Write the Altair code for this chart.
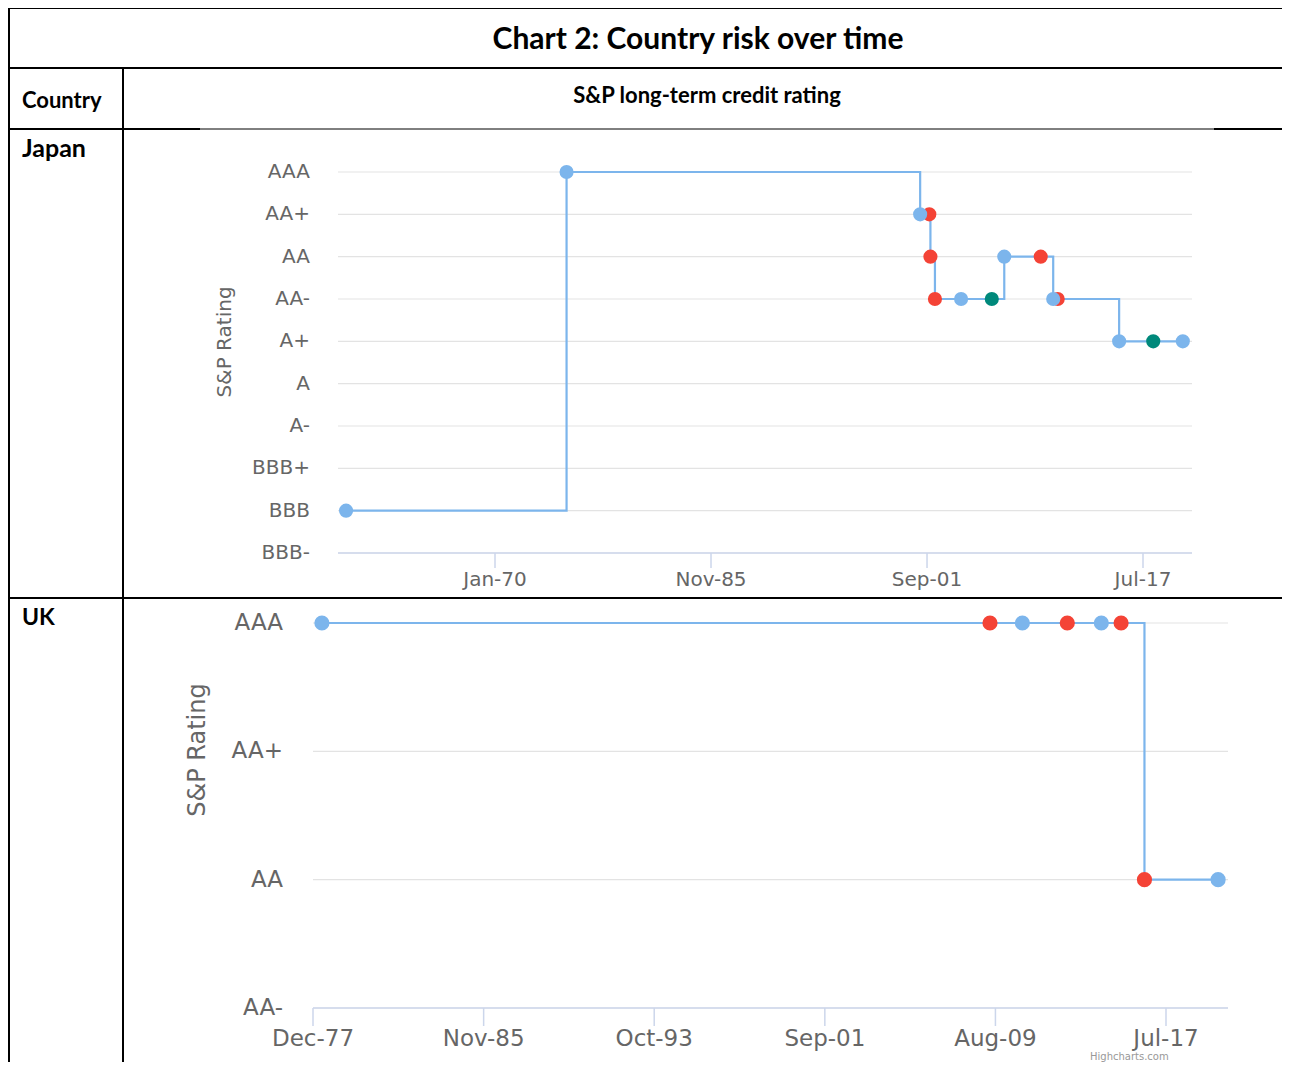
import altair as alt
import pandas as pd

# ---------------- data ----------------
jp_ratings = ["AAA", "AA+", "AA", "AA-", "A+", "A", "A-", "BBB+", "BBB", "BBB-"]
jp_dates = ["1959-02-01", "1975-04-01", "2001-03-01", "2001-11-01", "2001-12-01",
            "2002-04-01", "2004-03-01", "2006-06-01", "2007-05-01", "2010-01-01",
            "2010-12-01", "2011-04-01", "2015-10-01", "2018-04-01", "2020-06-01"]
jp_rating = ["BBB", "AAA", "AA+", "AA+", "AA", "AA-", "AA-", "AA-", "AA", "AA",
             "AA-", "AA-", "A+", "A+", "A+"]
jp_outlook = ["Stable", "Stable", "Stable", "Negative", "Negative", "Negative", "Stable",
              "Positive", "Stable", "Negative", "Stable", "Negative", "Stable",
              "Positive", "Stable"]
jp_tick_dates = ["1970-01-01", "1985-11-01", "2001-09-01", "2017-07-01"]
jp_tick_labels = ["Jan-70", "Nov-85", "Sep-01", "Jul-17"]

uk_ratings = ["AAA", "AA+", "AA", "AA-"]
uk_dates = ["1978-05-01", "2009-05-01", "2010-11-01", "2012-12-01", "2014-07-01",
            "2015-06-01", "2016-07-01", "2019-12-01"]
uk_rating = ["AAA", "AAA", "AAA", "AAA", "AAA", "AAA", "AA", "AA"]
uk_outlook = ["Stable", "Negative", "Stable", "Negative", "Stable", "Negative",
              "Negative", "Stable"]
uk_tick_dates = ["1977-12-01", "1985-11-01", "1993-10-01", "2001-09-01",
                 "2009-08-01", "2017-07-01"]
uk_tick_labels = ["Dec-77", "Nov-85", "Oct-93", "Sep-01", "Aug-09", "Jul-17"]

outlooks = ["Stable", "Negative", "Positive"]
outlook_colors = ["#7cb5ec", "#f44336", "#00897b"]

title_text = "Chart 2: Country risk over time"
header_country = "Country"
header_rating = "S&P long-term credit rating"
countries = ["Japan", "UK"]
y_title = "S&P Rating"
credits = "Highcharts.com"

# ---------------- layout ----------------
W, H = 1274, 1054
LABEL = "#666666"
GRID = "#e3e3e3"
AXIS = "#ccd6eb"
FONT = "DejaVu Sans"
TFONT = "Lato"

one = pd.DataFrame({"k": [0]})


def dt(s):
    t = pd.Timestamp(s)
    return alt.DateTime(year=t.year, month=t.month, date=t.day)


def hline(y, x1, x2, w=2, color="black"):
    return alt.Chart(one).mark_rule(color=color, strokeWidth=w).encode(
        x=alt.value(x1), x2=alt.value(x2), y=alt.value(y))


def vline(x, y1, y2, w=2, color="black"):
    return alt.Chart(one).mark_rule(color=color, strokeWidth=w).encode(
        x=alt.value(x), y=alt.value(y1), y2=alt.value(y2))


def label(text, x, y, size, align="left", weight="bold", font=TFONT, color="black"):
    return alt.Chart(one).mark_text(
        text=text, align=align, baseline="middle", font=font, fontSize=size,
        fontWeight=weight, color=color).encode(x=alt.value(x), y=alt.value(y))


def rating_chart(dates, ratings, outl, all_ratings, tick_dates, tick_labels,
                 xrange, yrange, gx, tick_len, xlab_y, ylab_x, ytitle_xy,
                 fsize, tsize, psize):
    xs = alt.Scale(type="time", domain=[dt(tick_dates[0]), dt(tick_dates[-1])],
                   range=xrange, nice=False)
    ys = alt.Scale(type="point", domain=all_ratings, range=yrange, padding=0)
    df = pd.DataFrame({"date": pd.to_datetime(dates), "rating": ratings,
                       "outlook": outl})
    rank = {"Negative": 0, "Positive": 1, "Stable": 2}
    pts_df = df.assign(o=df["outlook"].map(rank)).sort_values("o", kind="stable")
    grid_df = pd.DataFrame({"rating": all_ratings})
    tick_df = pd.DataFrame({"date": pd.to_datetime(tick_dates), "label": tick_labels})

    grid = alt.Chart(grid_df).mark_rule(color=GRID, strokeWidth=1.2).encode(
        y=alt.Y("rating:N", scale=ys, axis=None),
        x=alt.value(gx[0]), x2=alt.value(gx[1]))
    ylabels = alt.Chart(grid_df).mark_text(
        align="right", baseline="middle", font=FONT, fontSize=fsize, color=LABEL).encode(
        y=alt.Y("rating:N", scale=ys, axis=None), x=alt.value(ylab_x), text="rating:N")
    axis_line = alt.Chart(one).mark_rule(color=AXIS, strokeWidth=1.5).encode(
        x=alt.value(gx[0]), x2=alt.value(gx[1]), y=alt.value(yrange[1]))
    ticks = alt.Chart(tick_df).mark_rule(color=AXIS, strokeWidth=1.5).encode(
        x=alt.X("date:T", scale=xs, axis=None),
        y=alt.value(yrange[1]), y2=alt.value(yrange[1] + tick_len))
    xlabels = alt.Chart(tick_df).mark_text(
        align="center", baseline="middle", font=FONT, fontSize=fsize, color=LABEL).encode(
        x=alt.X("date:T", scale=xs, axis=None), y=alt.value(xlab_y), text="label:N")
    ytitle = alt.Chart(one).mark_text(
        text=y_title, angle=270, align="center", baseline="middle", font=FONT,
        fontSize=tsize, color=LABEL).encode(
        x=alt.value(ytitle_xy[0]), y=alt.value(ytitle_xy[1]))
    line = alt.Chart(df).mark_line(
        interpolate="step-after", color="#7cb5ec", strokeWidth=2.2).encode(
        x=alt.X("date:T", scale=xs, axis=None),
        y=alt.Y("rating:N", scale=ys, axis=None))
    pts = alt.Chart(pts_df).mark_circle(size=psize, opacity=1).encode(
        x=alt.X("date:T", scale=xs, axis=None),
        y=alt.Y("rating:N", scale=ys, axis=None),
        color=alt.Color("outlook:N", scale=alt.Scale(domain=outlooks, range=outlook_colors),
                        legend=None),
        order=alt.Order("o:Q"))
    return alt.layer(grid, axis_line, ticks, xlabels, ylabels, ytitle, line, pts)


japan = rating_chart(jp_dates, jp_rating, jp_outlook, jp_ratings, jp_tick_dates,
                     jp_tick_labels, xrange=[487, 1135], yrange=[164, 545],
                     gx=[330, 1184], tick_len=15, xlab_y=572, ylab_x=302,
                     ytitle_xy=(217, 334), fsize=20, tsize=20, psize=200)
uk = rating_chart(uk_dates, uk_rating, uk_outlook, uk_ratings, uk_tick_dates,
                  uk_tick_labels, xrange=[305, 1158], yrange=[615, 1000],
                  gx=[305, 1220], tick_len=18, xlab_y=1031, ylab_x=275,
                  ytitle_xy=(190, 742), fsize=23, tsize=24, psize=230)

decor = [
    hline(0, 0, W), vline(1, 0, H),
    hline(60, 0, W), vline(115, 60, H),
    hline(121, 0, 192), hline(121, 192, 1206, w=1), hline(121, 1206, W),
    hline(590, 0, W),
    label(title_text, 690, 32, 30, align="center"),
    label(header_country, 14, 93, 22),
    label(header_rating, 699, 88, 22, align="center"),
    label(countries[0], 14, 141, 25),
    label(countries[1], 14, 610, 23),
    alt.Chart(one).mark_text(text=credits, align="left", baseline="bottom",
                             font=FONT, fontSize=10, color="#999999").encode(
        x=alt.value(1082), y=alt.value(H)),
]

chart = alt.layer(*decor, japan, uk).resolve_scale(
    x="independent", y="independent", color="independent"
).properties(
    width=W, height=H, autosize=alt.AutoSizeParams(type="none"), padding=0,
    background="white"
).configure_view(strokeWidth=0)

chart.save("out.html", embed_options={"renderer": "svg", "actions": False})
